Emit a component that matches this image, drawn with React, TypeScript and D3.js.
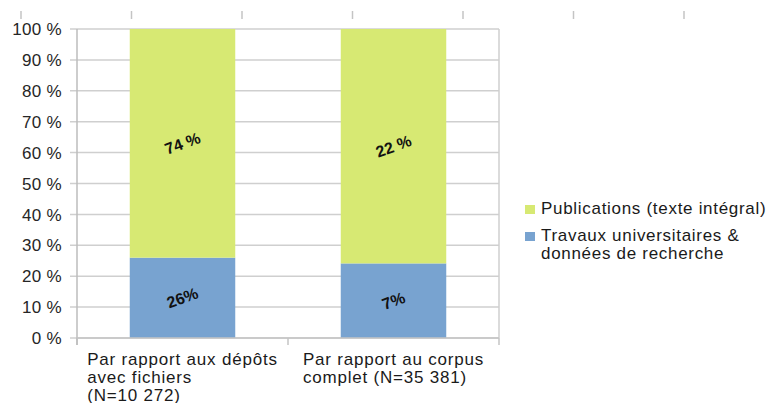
import React, { useEffect, useRef } from "react";
import * as d3 from "d3";

const categories = [
  ["Par rapport aux dépôts", "avec fichiers", "(N=10 272)"],
  ["Par rapport au corpus", "complet (N=35 381)"],
];
const categoryKeys = ["depots", "corpus"];
const seriesNames = ["Travaux universitaires & données de recherche", "Publications (texte intégral)"];
const travauxValues = [26, 7];
const publicationsValues = [74, 22];
const travauxLabels = ["26%", "7%"];
const publicationsLabels = ["74 %", "22 %"];
const yTicks = [0, 10, 20, 30, 40, 50, 60, 70, 80, 90, 100];
const topTickCount = 7;

const COLORS = { travaux: "#78a3d0", publications: "#d7e973" };
const FONT = "'Liberation Sans', Arial, sans-serif";

export default function App() {
  const ref = useRef<SVGSVGElement>(null);

  useEffect(() => {
    const svg = d3.select(ref.current);
    svg.selectAll("*").remove();

    const left = 77, right = 499, top = 29, bottom = 338;
    const x = d3.scaleBand<string>().domain(categoryKeys).range([left, right]).paddingInner(0.5).paddingOuter(0.25);
    const y = d3.scaleLinear().domain([0, 100]).range([bottom, top]);

    const rows = categoryKeys.map((k, i) => ({ key: k, travaux: travauxValues[i], publications: publicationsValues[i] }));
    const stack = d3.stack<any>().keys(["travaux", "publications"]).offset(d3.stackOffsetExpand);
    const stacked = stack(rows);

    // top stray ticks
    const tt = d3.scaleLinear().domain([0, topTickCount - 1]).range([21, 684]);
    svg.append("g").selectAll("line").data(d3.range(topTickCount)).join("line")
      .attr("x1", (d) => tt(d)).attr("x2", (d) => tt(d))
      .attr("y1", 11).attr("y2", 19)
      .attr("stroke", "#c4c4c4").attr("stroke-width", 1.5);

    // gridlines
    svg.append("g").selectAll("line").data(yTicks).join("line")
      .attr("x1", left - 7).attr("x2", right)
      .attr("y1", (d) => y(d)).attr("y2", (d) => y(d))
      .attr("stroke", "#cfcfcf").attr("stroke-width", 1.5);

    // right border
    svg.append("line").attr("x1", right).attr("x2", right).attr("y1", top).attr("y2", bottom)
      .attr("stroke", "#cfcfcf").attr("stroke-width", 1.5);

    // x category ticks
    const bounds = [left, ...categoryKeys.map((k) => x(k)! + x.bandwidth() + (x.step() - x.bandwidth()) / 2)];
    svg.append("g").selectAll("line").data(bounds).join("line")
      .attr("x1", (d) => d).attr("x2", (d) => d)
      .attr("y1", bottom).attr("y2", bottom + 7)
      .attr("stroke", "#c4c4c4").attr("stroke-width", 1.5);

    // bars
    const gBars = svg.append("g");
    stacked.forEach((s) => {
      gBars.append("g").attr("fill", (COLORS as any)[s.key]).selectAll("rect").data(s).join("rect")
        .attr("x", (d: any) => x(d.data.key)!)
        .attr("width", x.bandwidth())
        .attr("y", (d: any) => y(d[1] * 100))
        .attr("height", (d: any) => y(d[0] * 100) - y(d[1] * 100));
    });

    // left axis line
    svg.append("line").attr("x1", left).attr("x2", left).attr("y1", top).attr("y2", bottom + 7)
      .attr("stroke", "#bdbdbd").attr("stroke-width", 1.5);
    svg.append("line").attr("x1", left).attr("x2", right).attr("y1", bottom).attr("y2", bottom)
      .attr("stroke", "#c4c4c4").attr("stroke-width", 1.5);

    // y labels
    svg.append("g").selectAll("text").data(yTicks).join("text")
      .attr("x", 62).attr("y", (d) => y(d)).attr("dy", "0.36em")
      .attr("text-anchor", "end")
      .attr("font-family", FONT).attr("font-size", 17).attr("fill", "#262626")
      .attr("letter-spacing", 0.3)
      .text((d) => `${d} %`);

    // data labels
    const labelSets = [travauxLabels, publicationsLabels];
    stacked.forEach((s, si) => {
      svg.append("g").selectAll("text").data(s).join("text")
        .attr("transform", (d: any) => {
          const cx = x(d.data.key)! + x.bandwidth() / 2;
          const cy = y(((d[0] + d[1]) / 2) * 100);
          return `translate(${cx},${cy}) rotate(-20)`;
        })
        .attr("text-anchor", "middle").attr("dy", "0.35em")
        .attr("font-family", FONT).attr("font-weight", "bold").attr("font-size", 16).attr("fill", "#111")
        .text((_d: any, i: number) => labelSets[si][i]);
    });

    // x labels (left-aligned block centered in band)
    categoryKeys.forEach((k, i) => {
      const g = svg.append("g");
      const t = g.append("text").attr("font-family", FONT).attr("font-size", 17).attr("fill", "#1a1a1a")
        .attr("letter-spacing", 0.8);
      categories[i].forEach((line, li) => {
        t.append("tspan").attr("x", 0).attr("y", 365 + li * 18).text(line);
      });
      const w = (t.node() as SVGTextElement).getBBox().width;
      const cx = x(k)! + x.bandwidth() / 2;
      g.attr("transform", `translate(${cx - w / 2},0)`);
    });

    // legend
    const legend = svg.append("g");
    const items = [
      { name: seriesNames[1], color: COLORS.publications, lines: [seriesNames[1]] },
      { name: seriesNames[0], color: COLORS.travaux, lines: ["Travaux universitaires &", "données de recherche"] },
    ];
    let yy = 214;
    items.forEach((it) => {
      legend.append("rect").attr("x", 525).attr("y", yy - 9).attr("width", 10).attr("height", 9).attr("fill", it.color);
      const t = legend.append("text").attr("font-family", FONT).attr("font-size", 17).attr("fill", "#1a1a1a")
        .attr("letter-spacing", 0.7);
      it.lines.forEach((l, li) => {
        t.append("tspan").attr("x", 541).attr("y", yy + li * 18).text(l);
      });
      yy += it.lines.length * 18 + 9;
    });
  }, []);

  return (
    <div style={{ position: "absolute", left: 0, top: 0 }}>
      <svg ref={ref} width={769} height={403} style={{ display: "block", background: "#fff" }} />
    </div>
  );
}
